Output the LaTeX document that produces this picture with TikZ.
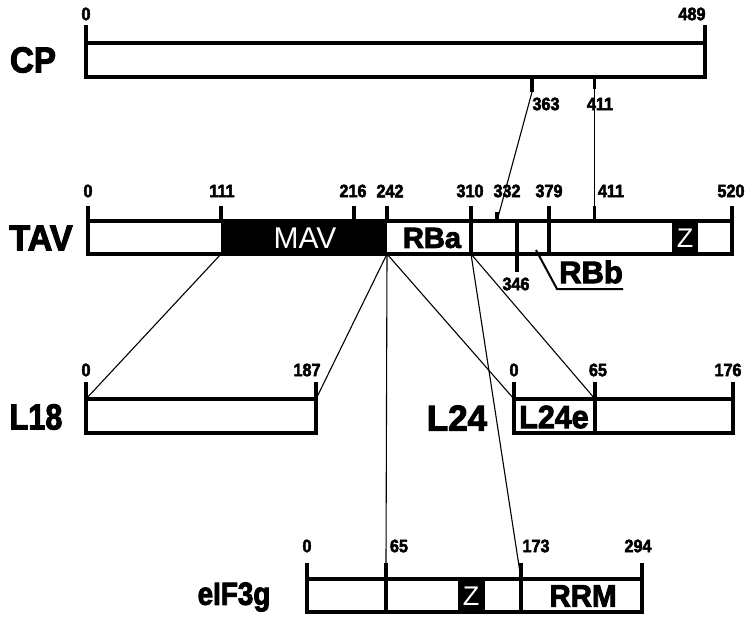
\documentclass[tikz,border=0pt]{standalone}
\usepackage{fontspec}
\usepackage{graphicx}
\setmainfont{Liberation Sans}[BoldFeatures={FakeBold=3}]
\newcommand\nar[2]{\scalebox{#1}[1]{#2}}
\begin{document}
\begin{tikzpicture}[x=1pt,y=-1pt,
  box/.style={line width=3.2pt,line join=miter},
  tk/.style={line width=3.2pt},
  conn/.style={line width=1.1pt},
  num/.style={font=\fontsize{18}{18}\selectfont\bfseries,inner sep=0pt},
  big/.style={font=\fontsize{36}{36}\selectfont\bfseries,inner sep=0pt},
  inb/.style={font=\fontsize{29}{29}\selectfont\bfseries,inner sep=0pt},
  inw/.style={font=\fontsize{30}{30}\selectfont,text=white,inner sep=0pt},
]
\useasboundingbox (0,0) rectangle (752,618);

% ---------------- CP ----------------
\node[big] (cpL) at (33,60) {\nar{0.92}{CP}};
\draw[box] (86,43) rectangle (705,77);
\draw[tk] (86,43) -- (86,25);
\draw[tk] (705,43) -- (705,25);
\node[num] (cp0) at (86,14) {\nar{0.9}{0}};
\node[num] (cp489) at (692,14) {\nar{0.9}{489}};
\coordinate (cp363) at (532,92);
\draw[tk] (532,77) -- (cp363);
\coordinate (cp411) at (594.5,77);
\draw[tk] (cp411) -- (594.5,89);
\node[num] (n363) at (546,104) {\nar{0.9}{363}};
\node[num] (n411) at (600,104) {\nar{0.9}{411}};

% ---------------- TAV ----------------
\node[big] (tavL) at (41,238) {\nar{0.95}{TAV}};
\fill (221,221) rectangle (387,254);
\fill (672,221) rectangle (698,254);
\draw[box] (88,221) rectangle (732,254);
\draw[tk] (471,221) -- (471,254);
\draw[tk] (549,221) -- (549,254);
\draw[tk] (517,221) -- (517,272);
\foreach \x in {88,221,354,387,471,549,594.5,732} \draw[tk] (\x,206) -- (\x,221);
\draw[tk] (497,212) -- (497,221);
\coordinate (tav332) at (497,221);
\coordinate (tav411) at (594.5,206);
\coordinate (tav111) at (221,254);
\coordinate (tav242) at (387,254);
\coordinate (tav310) at (471,254);
\node[num] (t0)   at (88,191)  {\nar{0.9}{0}};
\node[num] (t111) at (222,191) {\nar{0.9}{111}};
\node[num] (t216) at (353,191) {\nar{0.9}{216}};
\node[num] (t242) at (390,191) {\nar{0.9}{242}};
\node[num] (t310) at (470,191) {\nar{0.9}{310}};
\node[num] (t332) at (507,191) {\nar{0.9}{332}};
\node[num] (t379) at (549,191) {\nar{0.9}{379}};
\node[num] (t411) at (611,191) {\nar{0.9}{411}};
\node[num] (t520) at (731,191) {\nar{0.9}{520}};
\node[num] (t346) at (516,284) {\nar{0.9}{346}};
\node[inw] (mav) at (305,238) {MAV};
\node[inb] (rba) at (432,238) {RBa};
\node[inw,font=\fontsize{27}{27}\selectfont] (tz) at (685,238) {Z};
\node[inb,font=\fontsize{31}{31}\selectfont\bfseries] (rbb) at (591,272) {RBb};
\coordinate (rbbA) at (536,250);
\coordinate (rbbB) at (557,289);
\coordinate (rbbC) at (623,289);
\draw[line width=2pt] (rbbA) -- (rbbB) -- (rbbC);

% ---------------- L18 ----------------
\node[big] (l18L) at (36,417) {\nar{0.85}{L18}};
\draw[box] (86,399) rectangle (316,433);
\draw[tk] (86,399) -- (86,382);
\draw[tk] (316,399) -- (316,382);
\coordinate (l18a) at (86,399);
\coordinate (l18b) at (316,399);
\node[num] (l0) at (86,370) {\nar{0.9}{0}};
\node[num] (l187) at (307,370) {\nar{0.9}{187}};

% ---------------- L24 ----------------
\node[big] (l24L) at (457,418) {\nar{0.97}{L24}};
\draw[box] (514,399) rectangle (733,433);
\draw[tk] (595,399) -- (595,433);
\foreach \x in {514,595,733} \draw[tk] (\x,382) -- (\x,399);
\coordinate (l24a) at (514,399);
\coordinate (l24b) at (595,399);
\node[num] (m0) at (514,370) {\nar{0.9}{0}};
\node[num] (m65) at (598,370) {\nar{0.9}{65}};
\node[num] (m176) at (728,370) {\nar{0.9}{176}};
\node[inb,font=\fontsize{32}{32}\selectfont\bfseries] (l24e) at (554,417) {\nar{0.95}{L24e}};

% ---------------- eIF3g ----------------
\node[big,font=\fontsize{32}{32}\selectfont\bfseries] (eL) at (234,597) {\nar{0.87}{eIF3g}};
\fill (458,579) rectangle (485,612);
\draw[box] (307,579) rectangle (642,612);
\draw[tk] (386,579) -- (386,612);
\draw[tk] (521,579) -- (521,612);
\foreach \x in {307,386,521,642} \draw[tk] (\x,563) -- (\x,579);
\coordinate (e65) at (386,563);
\coordinate (e173) at (521,579);
\node[num] (e0) at (307,546) {\nar{0.9}{0}};
\node[num] (e65n) at (399,546) {\nar{0.9}{65}};
\node[num] (e173n) at (536,546) {\nar{0.9}{173}};
\node[num] (e294) at (638,546) {\nar{0.9}{294}};
\node[inw,font=\fontsize{27}{27}\selectfont] (ez) at (471,596) {Z};
\node[inb,font=\fontsize{31}{31}\selectfont\bfseries] (rrm) at (583,596) {\nar{0.95}{RRM}};

% ---------------- connectors ----------------
\draw[conn] (cp363) -- (tav332);
\draw[conn] (cp411) -- (tav411);
\draw[conn] (tav111) -- (l18a);
\draw[conn] (tav242) -- (l18b);
\draw[conn] (tav242) -- (l24a);
\draw[conn] (tav242) -- (e65);
\draw[conn] (tav310) -- (l24b);
\draw[conn] (tav310) -- (e173);
\end{tikzpicture}
\end{document}
